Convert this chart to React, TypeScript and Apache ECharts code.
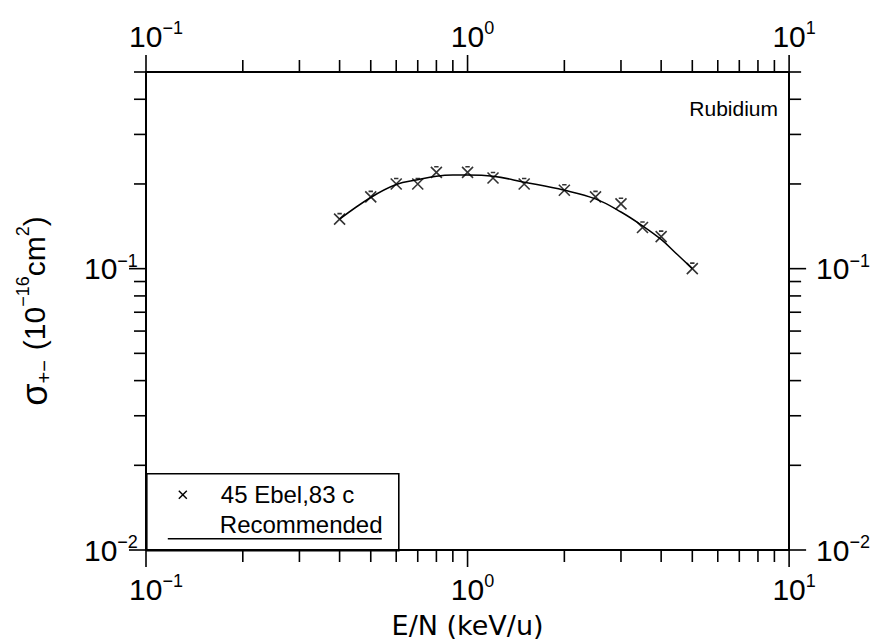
import React, { useEffect, useRef } from 'react';
import * as echarts from 'echarts';

// Ebel (ref. 45, 83 c) measured points
const energies = [0.4, 0.5, 0.6, 0.7, 0.8, 1.0, 1.2, 1.5, 2.0, 2.5, 3.0, 3.5, 4.0, 5.0];
const sigmaEbel = [0.15, 0.18, 0.2, 0.2, 0.22, 0.22, 0.21, 0.2, 0.19, 0.18, 0.17, 0.14, 0.13, 0.1];

// Recommended curve
const recEnergies = [0.4, 0.5, 0.6, 0.7, 0.8, 0.9, 1.0, 1.2, 1.5, 2.0, 2.5, 3.0, 3.5, 4.0, 4.5, 5.0];
const recSigma = [0.15, 0.179, 0.199, 0.207, 0.213, 0.215, 0.215, 0.213, 0.203, 0.19, 0.177, 0.159, 0.142, 0.127, 0.112, 0.1];

// axis ranges and ticks
const xRange = [0.1, 10];
const yRange = [0.01, 0.5];
const xTicks = [0.1, 0.2, 0.3, 0.4, 0.5, 0.6, 0.7, 0.8, 0.9, 1, 2, 3, 4, 5, 6, 7, 8, 9, 10];
const yTicks = [0.01, 0.02, 0.03, 0.04, 0.05, 0.06, 0.07, 0.08, 0.09, 0.1, 0.2, 0.3, 0.4, 0.5];

const titleText = 'Rubidium';
const legendPoints = '45 Ebel,83 c';
const legendCurve = 'Recommended';

const FONT = "'Liberation Sans', Arial, sans-serif";

const isMajor = (v: number) => Math.abs(Math.log10(v) - Math.round(Math.log10(v))) < 1e-6;
const expStr = (v: number) => {
  const e = Math.round(Math.log10(v));
  return (e < 0 ? '−' : '') + Math.abs(e);
};

const xLabel = (v: number) => {
  if (!isMajor(v)) return '';
  const s = expStr(v);
  return `{${s.length > 1 ? 'padL' : 'padS'}|}{base|10}{sup|${s}}`;
};
const yLabel = (v: number) => (isMajor(v) ? `{base|10}{sup|${expStr(v)}}` : '');

const labelRich = {
  base: { fontSize: 30, fontFamily: FONT, color: '#000', lineHeight: 34 },
  sup: { fontSize: 18, fontFamily: FONT, color: '#000', verticalAlign: 'top', lineHeight: 34 },
  padL: { width: 20 },
  padS: { width: 10 },
};

const TICK_MAJOR = 17;
const TICK_MINOR = 12;

const crossPath = 'path://M0,0L10,10M10,0L0,10M3,0L7,0';

export default function App() {
  const ref = useRef<HTMLDivElement>(null);
  useEffect(() => {
    if (!ref.current) return;
    const chart = echarts.init(ref.current, undefined, { renderer: 'svg' });

    const tickLine = (x1: number, y1: number, x2: number, y2: number) => ({
      type: 'line',
      shape: { x1, y1, x2, y2 },
      style: { stroke: '#000', lineWidth: 1.6 },
    });

    const axisLabelBase = { fontSize: 30, fontFamily: FONT, color: '#000', rich: labelRich, showMinLabel: true, showMaxLabel: true };

    const option: any = {
      animation: false,
      backgroundColor: '#fff',
      grid: { left: 146, right: 80, top: 72, bottom: 94, containLabel: false },
      xAxis: [
        {
          type: 'log',
          logBase: 10,
          min: xRange[0],
          max: xRange[1],
          position: 'bottom',
          name: 'E/N (keV/u)',
          nameLocation: 'middle',
          nameGap: 62,
          nameTextStyle: { fontSize: 27, fontFamily: "'DejaVu Sans', sans-serif", color: '#000' },
          axisLine: { show: true, lineStyle: { color: '#000', width: 2 } },
          axisTick: { show: false },
          minorTick: { show: false },
          splitLine: { show: false },
          axisLabel: { ...axisLabelBase, formatter: xLabel, margin: 22 },
        },
        {
          type: 'log',
          logBase: 10,
          min: xRange[0],
          max: xRange[1],
          position: 'top',
          axisLine: { show: true, lineStyle: { color: '#000', width: 2 } },
          axisTick: { show: false },
          splitLine: { show: false },
          axisLabel: { ...axisLabelBase, formatter: xLabel, margin: 19 },
        },
      ],
      yAxis: [
        {
          type: 'log',
          logBase: 10,
          min: yRange[0],
          max: yRange[1],
          position: 'left',
          name: '{g|σ}{sub|+−}{sp|}{t|(10}{sup|−16}{t|cm}{sup|2}{t|)}',
          nameLocation: 'middle',
          nameRotate: 90,
          nameGap: 92,
          nameTextStyle: {
            color: '#000',
            fontSize: 30,
            fontFamily: FONT,
            rich: {
              g: { fontSize: 36, fontFamily: FONT, color: '#000', lineHeight: 40 },
              t: { fontSize: 30, fontFamily: FONT, color: '#000', lineHeight: 40 },
              sp: { width: 10 },
              sub: { fontSize: 20, fontFamily: FONT, color: '#000', verticalAlign: 'bottom', lineHeight: 40 },
              sup: { fontSize: 18, fontFamily: FONT, color: '#000', verticalAlign: 'top', lineHeight: 40 },
            },
          },
          axisLine: { show: true, lineStyle: { color: '#000', width: 2 } },
          axisTick: { show: false },
          splitLine: { show: false },
          axisLabel: { ...axisLabelBase, formatter: yLabel, margin: 62, align: 'left' },
        },
        {
          type: 'log',
          logBase: 10,
          min: yRange[0],
          max: yRange[1],
          position: 'right',
          axisLine: { show: true, lineStyle: { color: '#000', width: 2 } },
          axisTick: { show: false },
          splitLine: { show: false },
          axisLabel: { ...axisLabelBase, formatter: yLabel, margin: 27, align: 'left' },
        },
      ],
      graphic: [
        {
          type: 'text',
          right: 95,
          top: 98,
          style: { text: titleText, fontSize: 21, fontFamily: FONT, fill: '#000' },
        },
        {
          type: 'group',
          left: 146,
          top: 473,
          children: [
            { type: 'rect', shape: { x: 0, y: 0, width: 252, height: 77 }, style: { fill: '#fff', stroke: '#000', lineWidth: 1.6 } },
            { type: 'line', shape: { x1: 32, y1: 17, x2: 40, y2: 25 }, style: { stroke: '#000', lineWidth: 1.4 } },
            { type: 'line', shape: { x1: 40, y1: 17, x2: 32, y2: 25 }, style: { stroke: '#000', lineWidth: 1.4 } },
            { type: 'text', x: 74, y: 21, style: { text: legendPoints, fontSize: 24, fontFamily: FONT, fill: '#000', verticalAlign: 'middle' } },
            { type: 'text', x: 73, y: 51, style: { text: legendCurve, fontSize: 24, fontFamily: FONT, fill: '#000', verticalAlign: 'middle' } },
            { type: 'line', shape: { x1: 21, y1: 65, x2: 235, y2: 65 }, style: { stroke: '#000', lineWidth: 1.4 } },
          ],
        },
      ],
      series: [
        {
          type: 'custom',
          silent: true,
          clip: false,
          data: xTicks.map((v) => [v, yRange[0]]),
          renderItem: (params: any, api: any) => {
            const cs = params.coordSys;
            const v = api.value(0);
            const len = isMajor(v) ? TICK_MAJOR : TICK_MINOR;
            const x = api.coord([v, yRange[0]])[0];
            const yb = cs.y + cs.height;
            return {
              type: 'group',
              children: [tickLine(x, yb, x, yb + len), tickLine(x, cs.y, x, cs.y - len)],
            };
          },
          z: 1,
        },
        {
          type: 'custom',
          silent: true,
          clip: false,
          data: yTicks.map((v) => [xRange[0], v]),
          renderItem: (params: any, api: any) => {
            const cs = params.coordSys;
            const v = api.value(1);
            const len = isMajor(v) ? TICK_MAJOR : TICK_MINOR;
            const y = api.coord([xRange[0], v])[1];
            const xr = cs.x + cs.width;
            return {
              type: 'group',
              children: [tickLine(cs.x, y, cs.x - len, y), tickLine(xr, y, xr + len, y)],
            };
          },
          z: 1,
        },
        {
          name: legendCurve,
          type: 'line',
          data: recEnergies.map((e, i) => [e, recSigma[i]]),
          smooth: 0.4,
          showSymbol: false,
          symbol: 'none',
          lineStyle: { color: '#000', width: 1.5 },
          z: 2,
        },
        {
          name: legendPoints,
          type: 'scatter',
          data: energies.map((e, i) => [e, sigmaEbel[i]]),
          symbol: crossPath,
          symbolSize: 11,
          itemStyle: { color: 'transparent', borderColor: '#000', borderWidth: 1.6 },
          z: 3,
        },
      ],
    };
    chart.setOption(option);
    return () => chart.dispose();
  }, []);
  return (
    <div
      ref={ref}
      style={{ position: 'fixed', left: 0, top: 0, width: 873, height: 644, background: '#fff' }}
    />
  );
}
